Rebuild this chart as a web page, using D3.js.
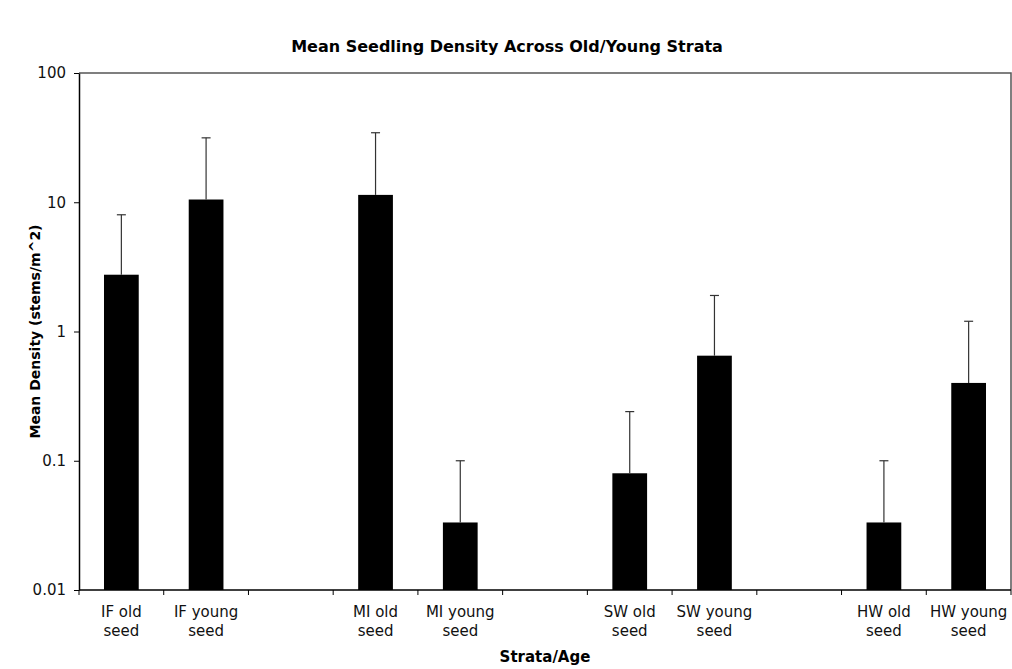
<!DOCTYPE html>
<html>
<head>
    <script src="https://d3js.org/d3.v7.min.js"></script>
    <style>
        body { margin: 0; background: #fff; }
        text { font-family: "DejaVu Sans", Verdana, sans-serif; fill: #000; }
        .title { font-size: 16px; font-weight: bold; }
        .axis-title { font-size: 14px; font-weight: bold; }
        .tick-label { font-size: 15px; fill: #111; }
    </style>
</head>
<body>
    <svg width="1012" height="669"></svg>
    <script>
        const categories = ['IF old|seed', 'IF young|seed', '', 'MI old|seed', 'MI young|seed', '',
            'SW old|seed', 'SW young|seed', '', 'HW old|seed', 'HW young|seed'];
        const means = [2.75, 10.5, null, 11.4, 0.0333, null, 0.08, 0.65, null, 0.0333, 0.4];
        const upper = [8.0, 31.5, null, 34.5, 0.1, null, 0.24, 1.9, null, 0.1, 1.2];
        const yTicks = [0.01, 0.1, 1, 10, 100];

        const margin = {top: 73, right: 1, bottom: 79, left: 79};
        const width = 1012 - margin.left - margin.right;
        const height = 669 - margin.top - margin.bottom;

        const svg = d3.select('svg');
        const g = svg.append('g')
            .attr('transform', `translate(${margin.left},${margin.top})`);

        const x = d3.scaleBand()
            .domain(d3.range(categories.length))
            .range([0, width])
            .paddingInner(0.59)
            .paddingOuter(0.295);

        const step = width / categories.length;

        const y = d3.scaleLog()
            .domain([0.01, 100])
            .range([height, 0]);

        // plot border (top and right)
        g.append('path')
            .attr('d', `M0,0H${width}V${height}`)
            .attr('fill', 'none')
            .attr('stroke', '#555')
            .attr('stroke-width', 1.5);

        const data = categories.map((c, i) => ({i, c, m: means[i], u: upper[i]}))
            .filter(d => d.m !== null);

        g.selectAll('.bar')
            .data(data)
            .enter()
            .append('rect')
            .attr('x', d => x(d.i))
            .attr('width', x.bandwidth())
            .attr('y', d => y(d.m))
            .attr('height', d => height - y(d.m))
            .attr('fill', '#000');

        const err = g.selectAll('.err')
            .data(data)
            .enter()
            .append('g')
            .attr('stroke', '#333')
            .attr('stroke-width', 1.2);
        err.append('line')
            .attr('x1', d => x(d.i) + x.bandwidth() / 2)
            .attr('x2', d => x(d.i) + x.bandwidth() / 2)
            .attr('y1', d => y(d.m))
            .attr('y2', d => y(d.u));
        err.append('line')
            .attr('x1', d => x(d.i) + x.bandwidth() / 2 - 4.5)
            .attr('x2', d => x(d.i) + x.bandwidth() / 2 + 4.5)
            .attr('y1', d => y(d.u))
            .attr('y2', d => y(d.u));

        // y axis
        const yAxis = g.append('g')
            .call(d3.axisLeft(y).tickValues(yTicks).tickFormat(d => String(d)).tickSizeInner(5).tickSizeOuter(0));
        yAxis.select('.domain').attr('stroke', '#000').attr('stroke-width', 1.5);
        yAxis.selectAll('.tick line').attr('stroke', '#000');
        yAxis.selectAll('.tick text').attr('class', 'tick-label').attr('x', -13);

        // x axis: ticks at category boundaries
        const xAxis = g.append('g').attr('transform', `translate(0,${height})`);
        xAxis.append('line')
            .attr('x1', 0).attr('x2', width)
            .attr('stroke', '#000').attr('stroke-width', 1.5);
        xAxis.selectAll('.xtick')
            .data(d3.range(categories.length + 1))
            .enter()
            .append('line')
            .attr('x1', d => d * step).attr('x2', d => d * step)
            .attr('y1', 0).attr('y2', 5)
            .attr('stroke', '#000');
        const labels = xAxis.selectAll('.xlabel')
            .data(categories.map((c, i) => ({c, i})).filter(d => d.c))
            .enter()
            .append('text')
            .attr('class', 'tick-label')
            .attr('text-anchor', 'middle')
            .attr('transform', d => `translate(${x(d.i) + x.bandwidth() / 2},0)`);
        labels.selectAll('tspan')
            .data(d => d.c.split('|'))
            .enter()
            .append('tspan')
            .attr('x', 0)
            .attr('y', (d, k) => 27 + k * 19)
            .text(d => d);

        svg.append('text')
            .attr('class', 'title')
            .attr('x', 507)
            .attr('y', 52)
            .attr('text-anchor', 'middle')
            .text('Mean Seedling Density Across Old/Young Strata');

        svg.append('text')
            .attr('class', 'axis-title')
            .attr('x', margin.left + width / 2)
            .attr('y', 662)
            .attr('text-anchor', 'middle')
            .style('font-size', '15px')
            .text('Strata/Age');

        svg.append('text')
            .attr('class', 'axis-title')
            .attr('transform', `translate(40,${margin.top + height / 2}) rotate(-90)`)
            .attr('text-anchor', 'middle')
            .text('Mean Density (stems/m^2)');
    </script>
</body>
</html>
